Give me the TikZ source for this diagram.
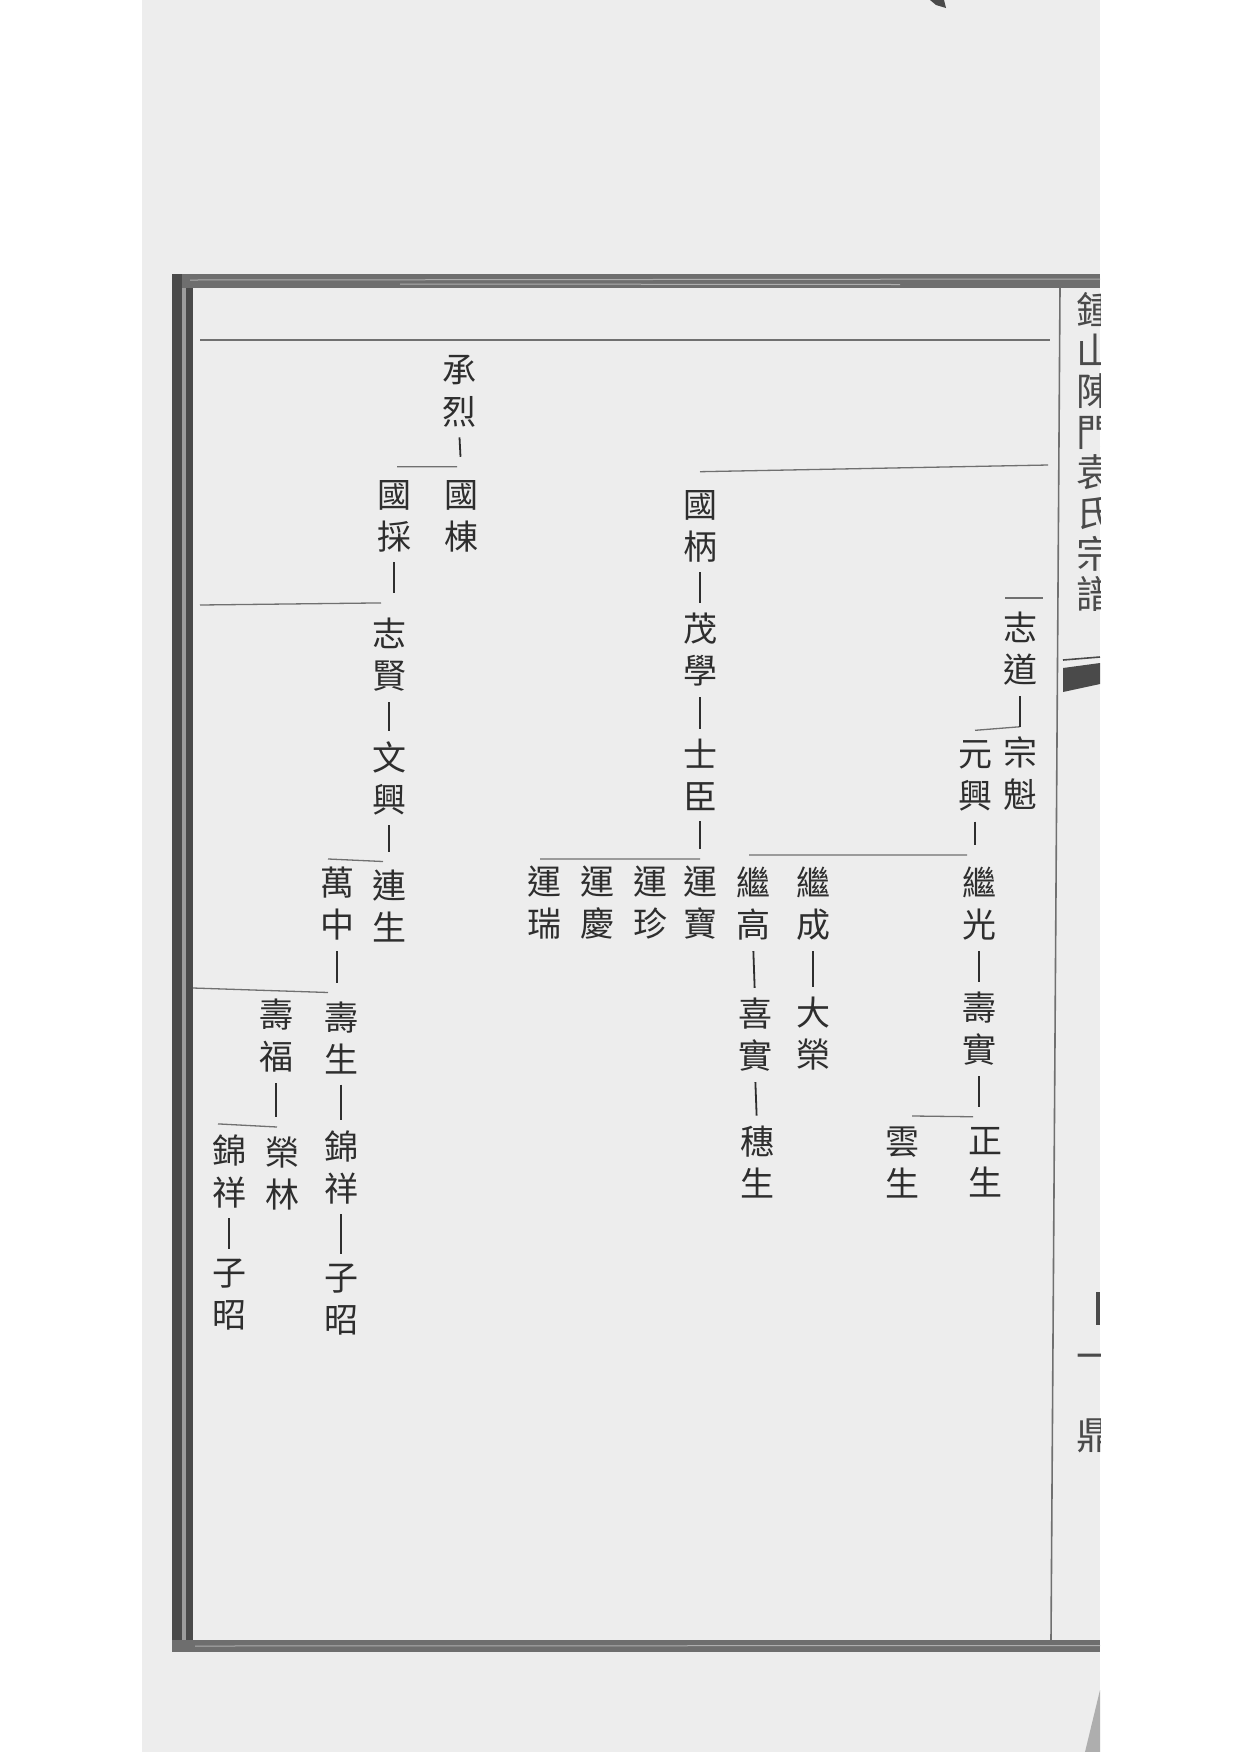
\documentclass[tikz,border=0pt]{standalone}
\usepackage{fontspec}
\newfontfamily\cjk{Noto Sans CJK TC}
\definecolor{paper}{HTML}{EDEDED}
\definecolor{ink}{HTML}{2E2E2E}
\definecolor{rule}{HTML}{707070}
\definecolor{frame}{HTML}{4A4A4A}
\begin{document}
\begin{tikzpicture}[x=0.5pt,y=-0.5pt,
  person/.style={font=\cjk\fontsize{17}{21}\selectfont, align=center, inner sep=0pt, text=ink},
  margintext/.style={font=\cjk\fontsize{19}{20.3}\selectfont, align=center, inner sep=0pt, text=frame},
  link/.style={draw=ink, line width=0.9pt, shorten <=5pt, shorten >=5pt},
  bar/.style={draw=rule, line width=0.65pt}]
\useasboundingbox (0,0) rectangle (1240,1752);
% page
\fill[white] (0,0) rectangle (1240,1752);
\fill[paper] (142,0) rectangle (1100,1752);
% frame
\fill[frame!80] (172,274) rectangle (1100,288);
\draw[frame!45!white, line width=0.5pt] (190,280) -- (1100,279);
\draw[frame!45!white, line width=0.5pt] (400,284) -- (900,284.5);
\fill[frame] (172,274) rectangle (182,1652);
\fill[frame!55] (182,288) rectangle (186,1640);
\fill[frame] (186,288) rectangle (193,1640);
\fill[frame!80] (172,1640) rectangle (1100,1652);
\draw[frame!45!white, line width=0.5pt] (195,1646) -- (1100,1645.5);
\draw[rule, line width=0.8pt] (1060,288) -- (1051,1640);
% margin column (cut by page edge)
\begin{scope}
\clip (1062,0) rectangle (1100,1752);
\node[margintext] (mt) at (1095,452) {鍾\\山\\陳\\門\\袁\\氏\\宗\\譜};
\node[margintext] (mt2) at (1095,1362) {一};
\node[margintext] (mt3) at (1095,1436) {鼎};
\fill[frame] (1063,668) -- (1100,663) -- (1100,684) -- (1063,692) -- cycle;
\draw[frame, line width=0.8pt] (1063,660) -- (1100,657);
\fill[frame] (1096,1292) rectangle (1100,1325);
\fill[frame!45] (1085,1752) -- (1100,1690) -- (1100,1752) -- cycle;
\end{scope}
\fill[frame] (930,0) -- (944,0) -- (946,8) -- (936,5) -- cycle;

% persons
\node[person] (zhidao) at (1020,649) {志\\道};
\node[person] (zongkui) at (1020,774) {宗\\魁};
\node[person] (yuanxing) at (975,776) {元\\興};
\node[person] (jiguang) at (979,904) {繼\\光};
\node[person] (shoushi) at (979,1029) {壽\\實};
\node[person] (zhengsheng) at (985,1162) {正\\生};
\node[person] (yunsheng) at (902,1162) {雲\\生};
\node[person] (jicheng) at (813,904) {繼\\成};
\node[person] (darong) at (813,1034) {大\\榮};
\node[person] (jigao) at (753,904) {繼\\高};
\node[person] (xishi) at (755,1035) {喜\\實};
\node[person] (suisheng) at (757,1162) {穗\\生};
\node[person] (guobing) at (700,526) {國\\柄};
\node[person] (maoxue) at (700,650) {茂\\學};
\node[person] (shichen) at (700,775) {士\\臣};
\node[person] (yunbao) at (700,903) {運\\寶};
\node[person] (yunzhen) at (650,903) {運\\珍};
\node[person] (yunqing) at (597,903) {運\\慶};
\node[person] (yunrui) at (544,903) {運\\瑞};
\node[person] (chenglie) at (459,391) {承\\烈};
\node[person] (guodong) at (461,516) {國\\棟};
\node[person] (guocai) at (394,516) {國\\採};
\node[person] (zhixian) at (389,655) {志\\賢};
\node[person] (wenxing) at (389,778) {文\\興};
\node[person] (liansheng) at (389,906) {連\\生};
\node[person] (wanzhong) at (337,904) {萬\\中};
\node[person] (shousheng) at (341,1038) {壽\\生};
\node[person] (jinxianga) at (341,1167) {錦\\祥};
\node[person] (zizhaoa) at (341,1300) {子\\昭};
\node[person] (shoufu) at (276,1036) {壽\\福};
\node[person] (ronglin) at (282,1174) {榮\\林};
\node[person] (jinxiangb) at (229,1171) {錦\\祥};
\node[person] (zizhaob) at (229,1295) {子\\昭};

% cross-page coordinates
\coordinate (topL) at (200,340);
\coordinate (topR) at (1050,340);
\coordinate (r465) at (1048,465);
\coordinate (l605) at (200,605);
\coordinate (l988) at (193,988);

% bars
\draw[bar] (topL) -- (topR);
\draw[bar] ([yshift=9pt]guobing.north) -- (r465);
\draw[bar] ([xshift=-7.5pt,yshift=7pt]zhidao.north) -- ([xshift=11.5pt,yshift=7pt]zhidao.north);
\draw[bar] ([yshift=5pt]yuanxing.north) -- ([yshift=5pt]zongkui.north);
\draw[bar] ([xshift=-2pt,yshift=6pt]jigao.north) -- ([xshift=-6pt,yshift=6pt]jiguang.north);
\draw[bar] ([xshift=5pt,yshift=5pt]yunsheng.north) -- ([xshift=-6pt,yshift=5pt]zhengsheng.north);
\draw[bar] ([xshift=-2pt,yshift=3.5pt]yunrui.north) -- ([yshift=3.5pt]yunbao.north);
\draw[bar] ([xshift=1.5pt,yshift=6.5pt]guocai.north) -- ([xshift=-2pt,yshift=6.5pt]guodong.north);
\draw[bar] (l605) -- ([xshift=-4pt,yshift=7.5pt]zhixian.north);
\draw[bar] ([xshift=-4.5pt,yshift=4pt]wanzhong.north) -- ([xshift=-3pt,yshift=4pt]liansheng.north);
\draw[bar] (l988) -- ([xshift=-6.5pt,yshift=4.5pt]shousheng.north);
\draw[bar] ([xshift=-5.5pt,yshift=5pt]jinxiangb.north) -- ([xshift=-2.5pt,yshift=5pt]ronglin.north);

% links
\draw[link] (zhidao.south) -- (zongkui.north);
\draw[link] (yuanxing.south) -- ([yshift=6pt]yuanxing.south |- jiguang.north);
\draw[link] (jiguang.south) -- (shoushi.north);
\draw[link] (shoushi.south) -- ([yshift=5pt]shoushi.south |- zhengsheng.north);
\draw[link] (jicheng.south) -- (darong.north);
\draw[link] (jigao.south) -- (xishi.north);
\draw[link] (xishi.south) -- (suisheng.north);
\draw[link] (guobing.south) -- (maoxue.north);
\draw[link] (maoxue.south) -- (shichen.north);
\draw[link] (shichen.south) -- ([yshift=3.5pt]yunbao.north);
\draw[link] (chenglie.south) -- ([yshift=6.5pt]guodong.north);
\draw[link] (guocai.south) -- ([yshift=7.5pt]guocai.south |- zhixian.north);
\draw[link] (zhixian.south) -- (wenxing.north);
\draw[link] (wenxing.south) -- ([yshift=4pt]liansheng.north);
\draw[link] (wanzhong.south) -- ([yshift=4.5pt]wanzhong.south |- shousheng.north);
\draw[link] (shousheng.south) -- (jinxianga.north);
\draw[link] (jinxianga.south) -- (zizhaoa.north);
\draw[link] (shoufu.south) -- ([yshift=5pt]shoufu.south |- ronglin.north);
\draw[link] (jinxiangb.south) -- (zizhaob.north);
\end{tikzpicture}
\end{document}
